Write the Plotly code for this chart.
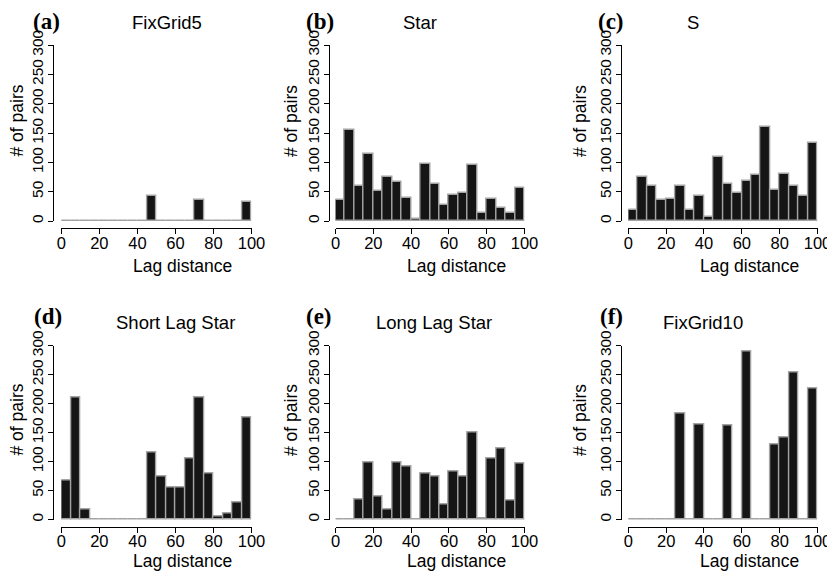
import plotly.graph_objects as go

# page is 835x575; the HTML body has an 8 px margin, so the figure is 8 px smaller
PAGE_W, PAGE_H = 835, 575
OFF = 8
W, H = PAGE_W - OFF, PAGE_H - OFF

# ---- data: histogram bins (lag distance) and counts per panel ----
bin_edges = [0, 5, 10, 15, 20, 25, 30, 35, 40, 45, 50, 55, 60, 65, 70, 75, 80, 85, 90, 95, 100]
x_ticks = [0, 20, 40, 60, 80, 100]
y_ticks = [0, 50, 100, 150, 200, 250, 300]

panel_letters = ["(a)", "(b)", "(c)", "(d)", "(e)", "(f)"]
panel_titles = ["FixGrid5", "Star", "S", "Short Lag Star", "Long Lag Star", "FixGrid10"]

fixgrid5 = [0, 0, 0, 0, 0, 0, 0, 0, 0, 42, 0, 0, 0, 0, 35, 0, 0, 0, 0, 33]
star = [35, 155, 59, 115, 51, 75, 67, 39, 3, 97, 63, 27, 45, 47, 95, 13, 38, 23, 14, 57]
s_design = [19, 75, 59, 35, 37, 59, 19, 43, 7, 109, 63, 48, 69, 78, 161, 53, 80, 59, 43, 133]
short_lag_star = [67, 210, 18, 0, 0, 0, 0, 0, 0, 115, 75, 55, 55, 106, 210, 79, 6, 10, 30, 176]
long_lag_star = [0, 0, 34, 99, 39, 18, 99, 91, 0, 79, 75, 26, 82, 74, 150, 1, 106, 122, 32, 96]
fixgrid10 = [0, 0, 0, 0, 0, 182, 0, 164, 0, 0, 162, 0, 290, 0, 0, 130, 141, 254, 0, 226]

series = [fixgrid5, star, s_design, short_lag_star, long_lag_star, fixgrid10]

x_title = "Lag distance"
y_title = "# of pairs"

# ---- layout geometry (page pixels) ----
col_x = [(61.3, 251.5), (335.5, 524.5), (628.3, 817.5)]
col_yline = [53.3, 329.0, 621.2]
row_y = [(221.0, 45.0), (519.5, 345.5)]
row_xline = [228.3, 526.5]

letter_pos = [(46.7, 21.5), (320, 21.5), (611, 21.5), (47.5, 316), (319, 316), (611.5, 316.5)]
title_pos = [(166.7, 22), (420, 22), (693, 22), (175, 322), (434, 322), (703, 322)]
xt_pos_x = [182.5, 456.7, 749.5]
xt_pos_y = [265.5, 560.5]
yt_pos_x = [16.5, 291, 580]
yt_pos_y = [121, 420]

def px(v):
    return (v - OFF) / W

def py(v):
    return 1 - (v - OFF) / H

centers = [(bin_edges[i] + bin_edges[i + 1]) / 2 for i in range(len(bin_edges) - 1)]
widths = [bin_edges[i + 1] - bin_edges[i] for i in range(len(bin_edges) - 1)]

FONT = "Liberation Sans, Arial, Helvetica, sans-serif"

fig = go.Figure()
layout = dict(
    width=W, height=H,
    margin=dict(l=0, r=0, t=0, b=0, pad=0, autoexpand=False),
    paper_bgcolor="white", plot_bgcolor="white",
    showlegend=False,
    bargap=0,
)
annotations = []
shapes = []

for i, vals in enumerate(series):
    r, c = divmod(i, 3)
    n = i + 1
    xa = "x" if n == 1 else f"x{n}"
    ya = "y" if n == 1 else f"y{n}"
    fig.add_trace(go.Bar(
        x=centers, y=vals, width=widths,
        xaxis=xa, yaxis=ya,
        marker=dict(color="#151515", line=dict(color="#a3a3a3", width=1.4)),
        hoverinfo="x+y",
    ))
    x0, x1 = col_x[c]
    yb, yt = row_y[r]
    layout["xaxis" if n == 1 else f"xaxis{n}"] = dict(
        domain=[px(x0), px(x1)], range=[bin_edges[0], bin_edges[-1]],
        anchor="free", position=py(row_xline[r]),
        showline=True, linecolor="black", linewidth=1.3,
        ticks="outside", ticklen=5, tickwidth=1.3, tickcolor="black",
        tickvals=x_ticks, ticktext=[str(t) for t in x_ticks],
        tickfont=dict(family=FONT, size=16.5, color="black"),
        ticklabelstandoff=-5,
        showgrid=False, zeroline=False, fixedrange=True, automargin=False,
    )
    layout["yaxis" if n == 1 else f"yaxis{n}"] = dict(
        domain=[py(yb), py(yt)], range=[y_ticks[0], y_ticks[-1]],
        anchor="free", position=px(col_yline[c]),
        showline=True, linecolor="black", linewidth=1.3,
        ticks="outside", ticklen=5, tickwidth=1.3, tickcolor="black",
        tickvals=y_ticks, ticktext=[str(t) for t in y_ticks],
        tickangle=-90,
        tickfont=dict(family=FONT, size=15.5, color="black"),
        ticklabelstandoff=-1,
        showgrid=False, zeroline=False, fixedrange=True, automargin=False,
    )
    # baseline of empty bins
    shapes.append(dict(
        type="line", xref=xa, yref=ya,
        x0=bin_edges[0], x1=bin_edges[-1], y0=0, y1=0,
        line=dict(color="#c4c4c4", width=1.2), layer="below",
    ))
    lx, ly = letter_pos[i]
    annotations.append(dict(
        text=f"<b>{panel_letters[i]}</b>", x=px(lx), y=py(ly), xref="paper", yref="paper",
        xanchor="center", yanchor="middle", showarrow=False,
        font=dict(family="Liberation Serif, Times New Roman, serif", size=23, color="black"),
    ))
    tx, ty = title_pos[i]
    annotations.append(dict(
        text=panel_titles[i], x=px(tx), y=py(ty), xref="paper", yref="paper",
        xanchor="center", yanchor="middle", showarrow=False,
        font=dict(family=FONT, size=18.5, color="black"),
    ))
    annotations.append(dict(
        text=x_title, x=px(xt_pos_x[c]), y=py(xt_pos_y[r]), xref="paper", yref="paper",
        xanchor="center", yanchor="middle", showarrow=False,
        font=dict(family=FONT, size=17.5, color="black"),
    ))
    annotations.append(dict(
        text=y_title, x=px(yt_pos_x[c]), y=py(yt_pos_y[r]), xref="paper", yref="paper",
        xanchor="center", yanchor="middle", showarrow=False, textangle=-90,
        font=dict(family=FONT, size=17.5, color="black"),
    ))

layout["annotations"] = annotations
layout["shapes"] = shapes
fig.update_layout(**layout)
fig.write_html("out.html")
